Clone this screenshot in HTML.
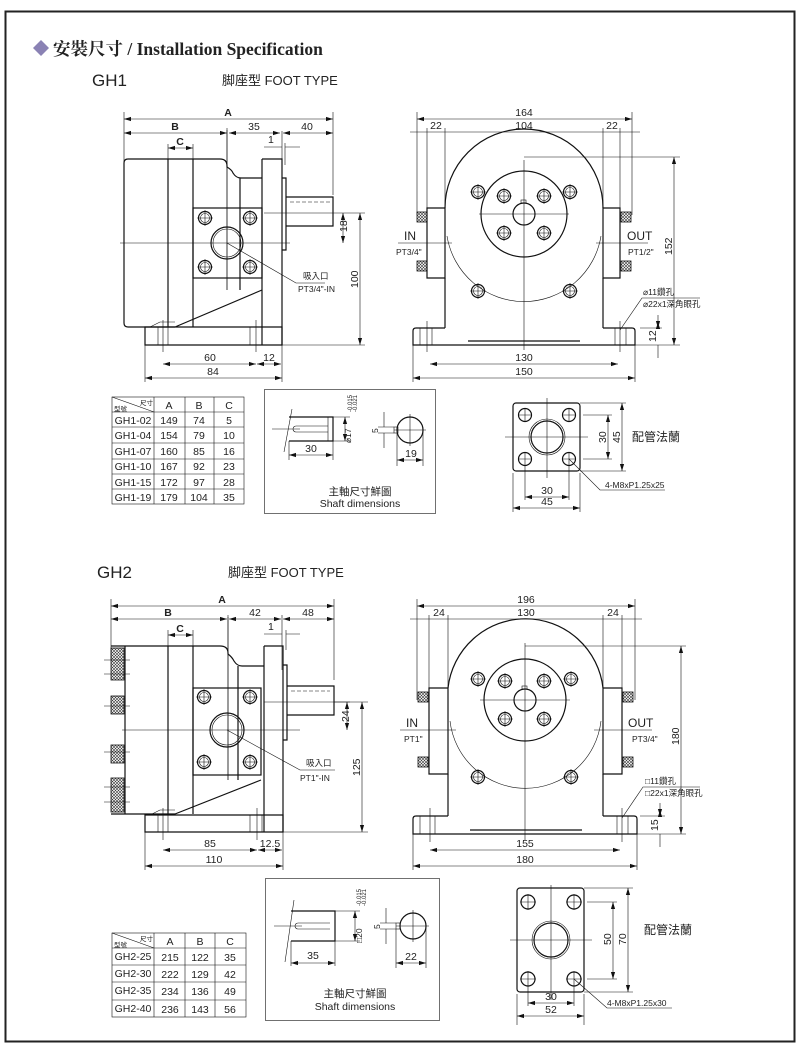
<!DOCTYPE html>
<html><head><meta charset="utf-8"><style>
html,body{margin:0;padding:0;background:#fff;}
svg{display:block;}
text{font-family:"Liberation Sans","Noto Sans CJK TC",sans-serif;fill:#222;}
.l{stroke:#111;fill:none;stroke-width:1.2}
.t{stroke:#111;fill:none;stroke-width:0.6}
.c{stroke:#111;fill:none;stroke-width:0.6}
.d{stroke:#111;fill:none;stroke-width:0.6;marker-start:url(#a);marker-end:url(#a)}
.f{font-size:10.5px}
.s{font-size:8.5px}
</style></head><body>
<svg width="800" height="1057" viewBox="0 0 800 1057" xmlns="http://www.w3.org/2000/svg">
<defs>
<marker id="a" viewBox="0 0 10 10" refX="10" refY="5" markerWidth="7" markerHeight="7" orient="auto-start-reverse" markerUnits="userSpaceOnUse"><path d="M0,2 L10,5 L0,8 z" fill="#111"/></marker>
<pattern id="h" width="3" height="3" patternUnits="userSpaceOnUse"><path d="M0,0L3,3M3,0L0,3" stroke="#333" stroke-width="0.6"/></pattern>
<g id="bolt"><circle r="6.5" class="l"/><circle r="4.5" class="t"/><path d="M-8,0H8M0,-8V8" class="t"/></g>
<g id="hs"><rect x="-5" y="-5" width="10" height="10" fill="url(#h)" stroke="#111" stroke-width="0.8"/></g>
</defs>
<rect x="5.5" y="11.5" width="789" height="1030" fill="none" stroke="#222" stroke-width="2"/>
<!-- header -->
<path d="M33,48 L41,40 L49,48 L41,56 z" fill="#8a82b4"/>
<text x="53" y="55" style="font-family:'Liberation Serif','Noto Serif CJK SC',serif;font-weight:bold;font-size:17.5px">安裝尺寸 / Installation Specification</text>
<text x="92" y="86" style="font-size:17px">GH1</text>
<text x="222" y="85" style="font-size:13px">脚座型  FOOT TYPE</text>
<text x="97" y="578" style="font-size:17px">GH2</text>
<text x="228" y="577" style="font-size:13px">脚座型  FOOT TYPE</text>

<!-- ===== GH1 SIDE ===== -->
<g>
<path class="t" d="M124,112V175M227,128V290M282,131V178M333,112V195M285,143V165M168,144V159M193,144V159"/>
<path class="d" d="M124,119H333"/><text x="228" y="116" class="f" text-anchor="middle" font-weight="bold">A</text>
<path class="d" d="M124,133H227"/><text x="175" y="130" class="f" text-anchor="middle" font-weight="bold">B</text>
<path class="d" d="M229,133H280"/><text x="254" y="130" class="f" text-anchor="middle">35</text>
<path class="d" d="M283,133H333"/><text x="307" y="130" class="f" text-anchor="middle">40</text>
<path class="d" d="M168,148H193"/><text x="180" y="145" class="f" text-anchor="middle" font-weight="bold">C</text>
<path class="t" d="M264,147H282M285,147H300"/><text x="268" y="143" class="f">1</text>
<path class="l" d="M128,159H220Q227,159 227,166V167Q232,170 233,173Q236,178 241,178H262"/>
<path class="l" d="M128,159Q124,159 124,163V323Q124,327 128,327H175"/>
<path class="l" d="M168,159V327M193,159V327"/>
<path class="l" d="M240,178V290M262,159V345M262,159H282V345M282,178H286V250H282"/>
<path class="l" d="M286,197H333V226H286"/><path class="t" d="M290,202H330" stroke-dasharray="4,2"/>
<rect class="l" x="193" y="208" width="69" height="70"/>
<circle class="l" cx="227" cy="243" r="16"/><circle class="t" cx="227" cy="243" r="14"/>
<use href="#bolt" x="205" y="218"/><use href="#bolt" x="250" y="218"/><use href="#bolt" x="205" y="267"/><use href="#bolt" x="250" y="267"/>
<path class="c" d="M120,243H290M227,130V290M264,213H340"/>
<path class="l" d="M262,290L175,327M145,327H282V345H145Z"/>
<path class="t" d="M158,327V345M163,320V352M168,327V345M250,327V345M256,320V352M262,327V345M150,327L160,322H175"/>
<path class="t" d="M282,345H365M340,213H365"/>
<path class="d" d="M343,213V243"/><text x="347" y="232" class="f" transform="rotate(-90 347 232)">18</text>
<path class="d" d="M360,213V345"/><text x="358" y="288" class="f" transform="rotate(-90 358 288)">100</text>
<path class="t" d="M227,243L296,283H325"/>
<text x="303" y="279" class="s">吸入口</text><text x="298" y="292" class="s">PT3/4"-IN</text>
<path class="t" d="M145,345V382M282,345V382"/>
<path class="d" d="M163,364H256"/><text x="210" y="361" class="f" text-anchor="middle">60</text>
<path class="d" d="M257,364H281"/><text x="269" y="361" class="f" text-anchor="middle">12</text>
<path class="d" d="M145,378H282"/><text x="213" y="375" class="f" text-anchor="middle">84</text>
</g>

<!-- ===== GH1 FRONT ===== -->
<g>
<path class="t" d="M417,112V215M427,128V210M445,128V215M603,128V215M620,128V210M632,112V215"/>
<path class="d" d="M417,119H632"/><text x="524" y="116" class="f" text-anchor="middle">164</text>
<path class="t" d="M410,132H640"/><text x="436" y="129" class="f" text-anchor="middle">22</text><text x="524" y="129" class="f" text-anchor="middle">104</text><text x="612" y="129" class="f" text-anchor="middle">22</text>
<path class="l" d="M445,208A79,79 0 0 1 603,208"/>
<path class="t" d="M447,236A78,78 0 0 0 601,236"/>
<path class="l" d="M427,208H445V278H427ZM603,208H620V278H603Z"/>
<use href="#hs" x="422" y="217"/><use href="#hs" x="422" y="266"/><use href="#hs" x="626" y="217"/><use href="#hs" x="626" y="266"/>
<path class="l" d="M445,278V328M603,278V328M445,328H416Q413,328 413,331V345H635V331Q635,328 632,328H603"/>
<path class="l" d="M468,341H580"/>
<path class="t" d="M420,328V345M427,321V352M432,328V345M615,328V345M620,321V352M626,328V345"/>
<circle class="l" cx="524" cy="214" r="43"/><circle class="l" cx="524" cy="214" r="11"/><rect x="521" y="200" width="5" height="3" class="t"/>
<use href="#bolt" x="478" y="192"/><use href="#bolt" x="504" y="196"/><use href="#bolt" x="544" y="196"/><use href="#bolt" x="570" y="192"/>
<use href="#bolt" x="504" y="233"/><use href="#bolt" x="544" y="233"/><use href="#bolt" x="478" y="291"/><use href="#bolt" x="570" y="291"/>
<path class="c" d="M524,160V350M479,214H569M398,243H452M596,243H648"/>
<text x="404" y="240" style="font-size:12px">IN</text><text x="396" y="255" class="s">PT3/4"</text>
<text x="627" y="240" style="font-size:12px">OUT</text><text x="628" y="255" class="s">PT1/2"</text>
<path class="t" d="M524,157H680M635,345H680M640,328H662"/>
<path class="d" d="M674,157V345"/><text x="672" y="255" class="f" transform="rotate(-90 672 255)">152</text>
<path class="t" d="M658,315V328M658,345V358"/><path class="d" d="M658,322V328"/><text x="656" y="342" class="f" transform="rotate(-90 656 342)">12</text>
<text x="643" y="295" class="s">⌀11鑽孔</text><text x="643" y="307" class="s">⌀22x1深角眼孔</text>
<path class="t" d="M620,330L642,298H700"/>
<path class="t" d="M413,345V382M635,345V382"/>
<path class="d" d="M430,364H618"/><text x="524" y="361" class="f" text-anchor="middle">130</text>
<path class="d" d="M413,378H635"/><text x="524" y="375" class="f" text-anchor="middle">150</text>
</g>

<!-- ===== GH1 TABLE ===== -->
<g>
<rect class="t" x="112" y="397" width="132" height="107"/>
<path class="t" d="M112,412H244M112,427H244M112,443H244M112,459H244M112,474H244M112,489H244M154,397V504M185,397V504M214,397V504M112,397L154,412"/>
<text x="140" y="405" style="font-size:6.5px">尺寸</text><text x="114" y="411" style="font-size:6.5px">型號</text>
<g class="f" text-anchor="middle">
<text x="169" y="409">A</text><text x="199" y="409">B</text><text x="229" y="409">C</text>
<text x="133" y="424">GH1-02</text><text x="169" y="424">149</text><text x="199" y="424">74</text><text x="229" y="424">5</text>
<text x="133" y="439">GH1-04</text><text x="169" y="439">154</text><text x="199" y="439">79</text><text x="229" y="439">10</text>
<text x="133" y="455">GH1-07</text><text x="169" y="455">160</text><text x="199" y="455">85</text><text x="229" y="455">16</text>
<text x="133" y="470">GH1-10</text><text x="169" y="470">167</text><text x="199" y="470">92</text><text x="229" y="470">23</text>
<text x="133" y="486">GH1-15</text><text x="169" y="486">172</text><text x="199" y="486">97</text><text x="229" y="486">28</text>
<text x="133" y="501">GH1-19</text><text x="169" y="501">179</text><text x="199" y="501">104</text><text x="229" y="501">35</text>
</g></g>

<!-- ===== GH1 SHAFT BOX ===== -->
<g>
<rect class="t" x="264.5" y="389.5" width="171" height="124"/>
<path class="l" d="M289,417H333V441H289"/><path class="t" d="M292,409L284,452M296,426H328M296,432H328M296,426A3,3 0 0 0 296,432M328,417V441"/>
<path class="c" d="M272,429H300"/>
<path class="t" d="M333,417H350M333,441H350M289,441V460M333,441V460"/>
<path class="d" d="M345,417V441"/><text x="351" y="443" class="s" transform="rotate(-90 351 443)">⌀17</text>
<text x="352" y="412" style="font-size:6px" transform="rotate(-90 352 412)">-0.015</text><text x="357" y="412" style="font-size:6px" transform="rotate(-90 357 412)">-0.021</text>
<path class="d" d="M289,455H333"/><text x="311" y="452" class="f" text-anchor="middle">30</text>
<circle class="l" cx="410" cy="430" r="13"/><rect class="t" x="394" y="427" width="4" height="6"/><path class="c" d="M394,430H426M410,414V446"/>
<path class="t" d="M378,427H394M378,433H394M384,412V427M384,433V448"/><text x="378" y="433" class="s" transform="rotate(-90 378 433)">5</text>
<path class="t" d="M397,433V466M423,430V466"/><path class="d" d="M397,460H423"/><text x="411" y="457" class="f" text-anchor="middle">19</text>
<text x="360" y="495" class="f" text-anchor="middle">主軸尺寸鮮圖</text><text x="360" y="507" class="f" text-anchor="middle">Shaft dimensions</text>
</g>

<!-- ===== GH1 FLANGE ===== -->
<g>
<rect class="l" x="513" y="403" width="67" height="68" rx="3"/>
<circle class="l" cx="547" cy="437" r="16"/><circle class="t" cx="547" cy="437" r="18"/>
<path class="c" d="M505,437H588M547,398V478"/>
<g><circle cx="525" cy="415" r="6.5" class="l"/><path class="t" d="M518,415H532M525,408V422"/></g>
<g><circle cx="569" cy="415" r="6.5" class="l"/><path class="t" d="M562,415H576M569,408V422"/></g>
<g><circle cx="525" cy="459" r="6.5" class="l"/><path class="t" d="M518,459H532M525,452V466"/></g>
<g><circle cx="569" cy="459" r="6.5" class="l"/><path class="t" d="M562,459H576M569,452V466"/></g>
<path class="t" d="M580,403H626M583,415H612M583,459H612M580,471H626M513,473V512M580,473V512M525,466V500M569,466V500"/>
<path class="d" d="M608,415V459"/><text x="606" y="443" class="f" transform="rotate(-90 606 443)">30</text>
<path class="d" d="M622,403V471"/><text x="620" y="443" class="f" transform="rotate(-90 620 443)">45</text>
<text x="632" y="441" style="font-size:12px">配管法蘭</text>
<path class="d" d="M525,497H569"/><text x="547" y="494" class="f" text-anchor="middle">30</text>
<path class="d" d="M513,508H580"/><text x="547" y="505" class="f" text-anchor="middle">45</text>
<path class="t" d="M569,459L600,490H665"/><text x="605" y="488" class="s">4-M8xP1.25x25</text>
</g>

<!-- ===== GH2 SIDE ===== -->
<g>
<path class="t" d="M111,599V660M228,615V780M282,615V670M334,599V680M286,630V650M168,630V646M193,630V646"/>
<path class="d" d="M111,606H334"/><text x="222" y="603" class="f" text-anchor="middle" font-weight="bold">A</text>
<path class="d" d="M111,619H227"/><text x="168" y="616" class="f" text-anchor="middle" font-weight="bold">B</text>
<path class="d" d="M229,619H281"/><text x="255" y="616" class="f" text-anchor="middle">42</text>
<path class="d" d="M283,619H334"/><text x="308" y="616" class="f" text-anchor="middle">48</text>
<path class="d" d="M168,635H193"/><text x="180" y="632" class="f" text-anchor="middle" font-weight="bold">C</text>
<path class="t" d="M264,634H282M286,634H300"/><text x="268" y="630" class="f">1</text>
<path class="l" d="M125,646H220Q228,646 228,653V654Q232,657 234,661Q237,666 242,666H264"/>
<path class="l" d="M125,646V814H175M125,646H111M125,814H111"/>
<rect x="111" y="648" width="13" height="32" fill="url(#h)" stroke="#111" stroke-width="0.8"/>
<rect x="111" y="696" width="13" height="18" fill="url(#h)" stroke="#111" stroke-width="0.8"/>
<rect x="111" y="745" width="13" height="18" fill="url(#h)" stroke="#111" stroke-width="0.8"/>
<rect x="111" y="778" width="13" height="34" fill="url(#h)" stroke="#111" stroke-width="0.8"/>
<path class="t" d="M104,660H130M104,674H130M104,706H130M104,752H130M104,787H130M104,802H130"/>
<path class="l" d="M168,646V814M193,646V814"/>
<path class="l" d="M238,666V780M264,646V832M264,646H283V832M283,665H287V740H283"/>
<path class="l" d="M287,686H334V715H287"/><path class="t" d="M291,691H330" stroke-dasharray="4,2"/>
<rect class="l" x="193" y="688" width="68" height="87"/>
<circle class="l" cx="227" cy="730" r="17"/><circle class="t" cx="227" cy="730" r="15"/>
<use href="#bolt" x="204" y="697"/><use href="#bolt" x="250" y="697"/><use href="#bolt" x="204" y="762"/><use href="#bolt" x="250" y="762"/>
<path class="c" d="M122,730H300M228,617V780M264,702H350"/>
<path class="l" d="M261,780L175,814M145,815H283V832H145Z"/>
<path class="t" d="M158,815V832M163,808V840M168,815V832M250,815V832M257,808V840M262,815V832M150,815L160,810H175"/>
<path class="t" d="M283,832H368M334,702H368"/>
<path class="d" d="M347,702V730"/><text x="349" y="722" class="f" transform="rotate(-90 349 722)">24</text>
<path class="d" d="M362,702V832"/><text x="360" y="776" class="f" transform="rotate(-90 360 776)">125</text>
<path class="t" d="M227,730L300,770H335"/>
<text x="306" y="766" class="s">吸入口</text><text x="300" y="781" class="s">PT1"-IN</text>
<path class="t" d="M145,832V870M283,832V870"/>
<path class="d" d="M163,850H257"/><text x="210" y="847" class="f" text-anchor="middle">85</text>
<path class="d" d="M258,850H282"/><text x="270" y="847" class="f" text-anchor="middle">12.5</text>
<path class="d" d="M145,866H283"/><text x="214" y="863" class="f" text-anchor="middle">110</text>
</g>

<!-- ===== GH2 FRONT ===== -->
<g>
<path class="t" d="M417,599V700M429,615V695M448,615V690M603,615V690M622,615V695M635,599V700"/>
<path class="d" d="M417,606H635"/><text x="526" y="603" class="f" text-anchor="middle">196</text>
<path class="t" d="M410,619H642"/><text x="439" y="616" class="f" text-anchor="middle">24</text><text x="526" y="616" class="f" text-anchor="middle">130</text><text x="613" y="616" class="f" text-anchor="middle">24</text>
<path class="l" d="M448,688A78,78 0 0 1 603,688"/>
<path class="t" d="M450,721A76,76 0 0 0 601,721"/>
<path class="l" d="M429,688H448V774H429ZM603,688H622V774H603Z"/>
<use href="#hs" x="423" y="697"/><use href="#hs" x="423" y="762"/><use href="#hs" x="628" y="697"/><use href="#hs" x="628" y="762"/>
<path class="l" d="M448,774V816M603,774V816M448,816H416Q413,816 413,819V834H637V819Q637,816 634,816H603"/>
<path class="l" d="M470,830H582"/>
<path class="t" d="M420,816V834M430,808V842M435,816V834M617,816V834M622,808V842M628,816V834"/>
<circle class="l" cx="525" cy="700" r="41"/><circle class="l" cx="525" cy="700" r="11"/><rect x="522" y="686" width="5" height="3" class="t"/>
<use href="#bolt" x="478" y="679"/><use href="#bolt" x="505" y="681"/><use href="#bolt" x="544" y="681"/><use href="#bolt" x="571" y="679"/>
<use href="#bolt" x="505" y="719"/><use href="#bolt" x="544" y="719"/><use href="#bolt" x="478" y="777"/><use href="#bolt" x="571" y="777"/>
<path class="c" d="M525,643V840M480,700H570M400,730H456M594,730H652"/>
<text x="406" y="727" style="font-size:12px">IN</text><text x="404" y="742" class="s">PT1"</text>
<text x="628" y="727" style="font-size:12px">OUT</text><text x="632" y="742" class="s">PT3/4"</text>
<path class="t" d="M525,646H686M637,834H686M640,816H665"/>
<path class="d" d="M681,646V834"/><text x="679" y="745" class="f" transform="rotate(-90 679 745)">180</text>
<path class="t" d="M660,803V816M660,834V847"/><path class="d" d="M660,810V816"/><text x="658" y="831" class="f" transform="rotate(-90 658 831)">15</text>
<text x="645" y="784" class="s">□11鑽孔</text><text x="645" y="796" class="s">□22x1深角眼孔</text>
<path class="t" d="M622,818L643,787H700"/>
<path class="t" d="M413,834V870M637,834V870"/>
<path class="d" d="M430,850H620"/><text x="525" y="847" class="f" text-anchor="middle">155</text>
<path class="d" d="M413,866H637"/><text x="525" y="863" class="f" text-anchor="middle">180</text>
</g>

<!-- ===== GH2 TABLE ===== -->
<g>
<rect class="t" x="112" y="933" width="134" height="84"/>
<path class="t" d="M112,948H246M112,965H246M112,982H246M112,1000H246M154,933V1017M185,933V1017M215,933V1017M112,933L154,948"/>
<text x="140" y="941" style="font-size:6.5px">尺寸</text><text x="114" y="947" style="font-size:6.5px">型號</text>
<g class="f" text-anchor="middle">
<text x="170" y="945">A</text><text x="200" y="945">B</text><text x="230" y="945">C</text>
<text x="133" y="960">GH2-25</text><text x="170" y="961">215</text><text x="200" y="961">122</text><text x="230" y="961">35</text>
<text x="133" y="977">GH2-30</text><text x="170" y="978">222</text><text x="200" y="978">129</text><text x="230" y="978">42</text>
<text x="133" y="994">GH2-35</text><text x="170" y="995">234</text><text x="200" y="995">136</text><text x="230" y="995">49</text>
<text x="133" y="1012">GH2-40</text><text x="170" y="1013">236</text><text x="200" y="1013">143</text><text x="230" y="1013">56</text>
</g>
</g>

<!-- ===== GH2 SHAFT BOX ===== -->
<g>
<rect class="t" x="265.5" y="878.5" width="174" height="142"/>
<path class="l" d="M291,911H335V941H291"/><path class="t" d="M294,900L285,962M298,923H330M298,929H330M298,923A3,3 0 0 0 298,929M335,911V941"/>
<path class="c" d="M274,926H302"/>
<path class="t" d="M335,911H360M335,941H360M291,941V966M335,941V966"/>
<path class="d" d="M355,911V941"/><text x="362" y="943" class="s" transform="rotate(-90 362 943)">□20</text>
<text x="361" y="906" style="font-size:6px" transform="rotate(-90 361 906)">-0.015</text><text x="366" y="906" style="font-size:6px" transform="rotate(-90 366 906)">-0.021</text>
<path class="d" d="M291,963H335"/><text x="313" y="959" class="f" text-anchor="middle">35</text>
<circle class="l" cx="413" cy="926" r="13"/><rect class="t" x="396" y="923" width="4" height="6"/><path class="c" d="M396,926H429M413,910V942"/>
<path class="t" d="M380,923H396M380,929H396M386,908V923M386,929V944"/><text x="380" y="929" class="s" transform="rotate(-90 380 929)">5</text>
<path class="t" d="M396,929V968M426,926V968"/><path class="d" d="M396,963H426"/><text x="411" y="960" class="f" text-anchor="middle">22</text>
<text x="355" y="997" class="f" text-anchor="middle">主軸尺寸鮮圖</text><text x="355" y="1010" class="f" text-anchor="middle">Shaft dimensions</text>
</g>

<!-- ===== GH2 FLANGE ===== -->
<g>
<rect class="l" x="517" y="888" width="67" height="104" rx="3"/>
<circle class="l" cx="551" cy="940" r="17"/><circle class="t" cx="551" cy="940" r="19"/>
<path class="c" d="M510,940H592M551,885V1000"/>
<g><circle cx="528" cy="902" r="7" class="l"/><path class="t" d="M520,902H536M528,894V910"/></g>
<g><circle cx="574" cy="902" r="7" class="l"/><path class="t" d="M566,902H582M574,894V910"/></g>
<g><circle cx="528" cy="979" r="7" class="l"/><path class="t" d="M520,979H536M528,971V987"/></g>
<g><circle cx="574" cy="979" r="7" class="l"/><path class="t" d="M566,979H582M574,971V987"/></g>
<path class="t" d="M584,888H633M587,902H617M587,979H617M584,992H633M517,994V1025M584,994V1025M528,987V1006M574,987V1006"/>
<path class="d" d="M613,902V979"/><text x="611" y="945" class="f" transform="rotate(-90 611 945)">50</text>
<path class="d" d="M628,888V992"/><text x="626" y="945" class="f" transform="rotate(-90 626 945)">70</text>
<text x="644" y="934" style="font-size:12px">配管法蘭</text>
<path class="d" d="M528,1003H574"/><text x="551" y="1000" class="f" text-anchor="middle">30</text>
<path class="d" d="M517,1016H584"/><text x="551" y="1013" class="f" text-anchor="middle">52</text>
<path class="t" d="M574,979L607,1008H672"/><text x="607" y="1006" class="s">4-M8xP1.25x30</text>
</g>
</svg>
</body></html>
